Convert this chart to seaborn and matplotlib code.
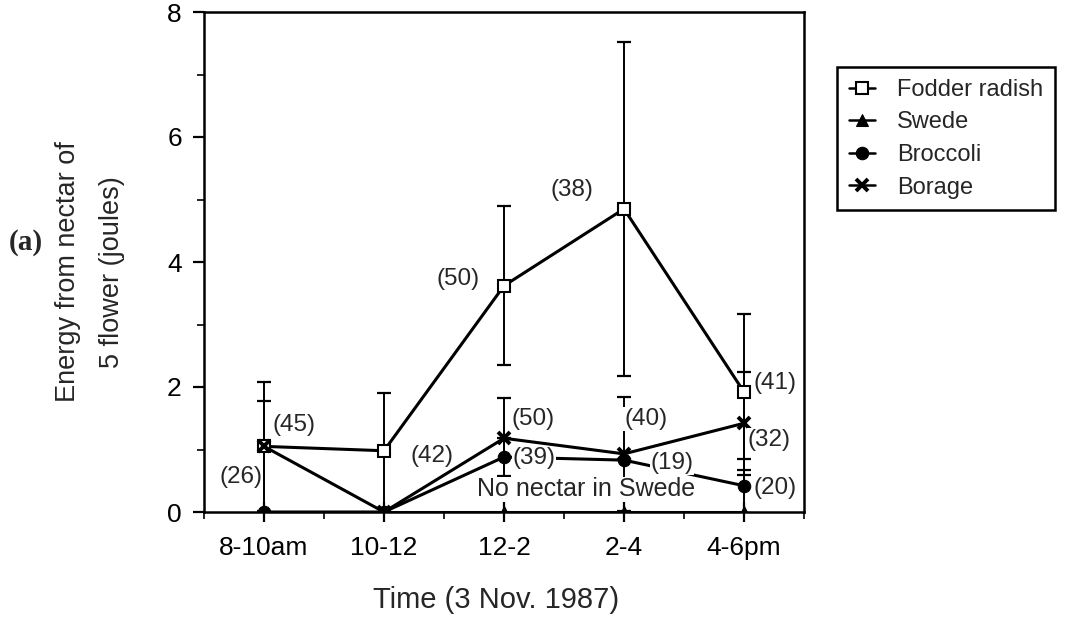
import matplotlib
matplotlib.use("Agg")
import matplotlib.pyplot as plt
import seaborn as sns
import pandas as pd
import numpy as np

# Time slots on 3 Nov. 1987
times = ["8-10am", "10-12", "12-2", "2-4", "4-6pm"]

# Mean energy from nectar of 5 flowers (joules) and error-bar half widths
fodder_radish = [1.05, 0.98, 3.62, 4.85, 1.92]
fodder_radish_err = [1.03, 0.92, 1.27, 2.67, 1.25]
swede = [0.0, 0.0, 0.0, 0.0, 0.0]
broccoli = [0.0, 0.0, 0.88, 0.83, 0.42]
broccoli_err = [1.78, 0.0, 0.30, 0.0, 0.43]
borage = [1.05, 0.0, 1.18, 0.93, 1.42]
borage_err = [0.0, 0.0, 0.65, 0.91, 0.82]

# Sample sizes written beside the points: (text, x position, y value)
sample_labels = [
    ("(45)", 0.25, 1.39), ("(26)", -0.19, 0.56),
    ("(42)", 1.40, 0.90), ("(50)", 1.62, 3.72),
    ("(50)", 2.24, 1.49), ("(39)", 2.25, 0.86),
    ("(38)", 2.57, 5.15), ("(40)", 3.18, 1.49),
    ("(19)", 3.40, 0.78), ("(41)", 4.26, 2.06),
    ("(32)", 4.21, 1.15), ("(20)", 4.26, 0.38),
]

sns.set_style("ticks")
plt.rcParams["font.family"] = ["Liberation Sans", "DejaVu Sans"]

pos = np.arange(len(times))
df = pd.DataFrame({
    "pos": np.tile(pos, 4),
    "value": fodder_radish + swede + broccoli + borage,
    "series": np.repeat(["Fodder radish", "Swede", "Broccoli", "Borage"], len(times)),
})

fig = plt.figure(figsize=(10.73, 6.23), dpi=100)
ax = fig.add_axes([204 / 1073, 111 / 623, 600 / 1073, 500 / 623])

styles = {
    "Fodder radish": dict(marker="s", markersize=8.5, markerfacecolor="white",
                          markeredgecolor="black", markeredgewidth=1.5, zorder=4),
    "Swede": dict(marker="^", markersize=9, markerfacecolor="black",
                  markeredgecolor="black", zorder=3),
    "Broccoli": dict(marker="o", markersize=9, markerfacecolor="black",
                     markeredgecolor="black", zorder=3),
    "Borage": dict(marker="x", markersize=9, markeredgewidth=2.8,
                   markeredgecolor="black", zorder=5),
}
for name, kw in styles.items():
    sub = df[df["series"] == name]
    sns.lineplot(data=sub, x="pos", y="value", color="black", linewidth=2.2,
                 label=name, ax=ax, **kw)

errs = [(fodder_radish, fodder_radish_err), (broccoli, broccoli_err), (borage, borage_err)]
for vals, err in errs:
    v = np.array(vals)
    e = np.array(err)
    m = e > 0
    ax.errorbar(pos[m], v[m], yerr=e[m], fmt="none", ecolor="black",
                elinewidth=1.4, capsize=5, capthick=1.6, zorder=2)

for txt, x, y in sample_labels:
    ax.text(x, y, txt, fontsize=17.5, ha="center", va="center", zorder=6,
            bbox=dict(facecolor="white", edgecolor="none", pad=0.5))

ax.text(2.68, 0.36, "No nectar in Swede", fontsize=18, ha="center", va="center",
        zorder=6, bbox=dict(facecolor="white", edgecolor="none", pad=0.5))

ax.set_xlim(-0.5, 4.5)
ax.set_ylim(0, 8)
ax.set_xticks(pos)
ax.set_xticklabels(times)
ax.set_xticks(np.arange(-0.5, 4.6, 0.5), minor=True)
ax.set_yticks([0, 2, 4, 6, 8])
ax.set_yticks([1, 3, 5, 7], minor=True)
ax.tick_params(axis="both", which="major", labelsize=19, width=1.6, length=8,
               color="black", labelcolor="black", direction="out", pad=8)
ax.tick_params(axis="both", which="minor", width=1.4, length=5, direction="out")
ax.tick_params(axis="x", which="major", direction="inout", length=14, pad=10)
for s in ax.spines.values():
    s.set_linewidth(1.8)
    s.set_color("black")
    s.set_visible(True)
ax.set_xlabel("")
ax.set_ylabel("")

fig.text(496 / 1073, 1 - 600 / 623, "Time (3 Nov. 1987)", fontsize=21,
         ha="center", va="center")
fig.text(90 / 1073, 1 - 272 / 623, "Energy from nectar of\n5 flower (joules)",
         fontsize=19.5, rotation=90, ha="center", va="center",
         multialignment="center", linespacing=1.9)
fig.text(26 / 1073, 1 - 242 / 623, "(a)", fontsize=21, fontweight="bold",
         family="Liberation Serif", ha="center", va="center")

leg = ax.legend(loc="upper left", bbox_to_anchor=(837 / 1073, 1 - 67 / 623),
                bbox_transform=fig.transFigure, borderaxespad=0, fontsize=17,
                frameon=True, fancybox=False, edgecolor="black", framealpha=1,
                handlelength=1.1, handletextpad=0.95, labelspacing=0.45,
                borderpad=0.5)
leg.get_frame().set_linewidth(1.8)
for h in leg.legend_handles:
    h.set_linewidth(1.8)

fig.savefig("out.png", dpi=100, facecolor="white")
